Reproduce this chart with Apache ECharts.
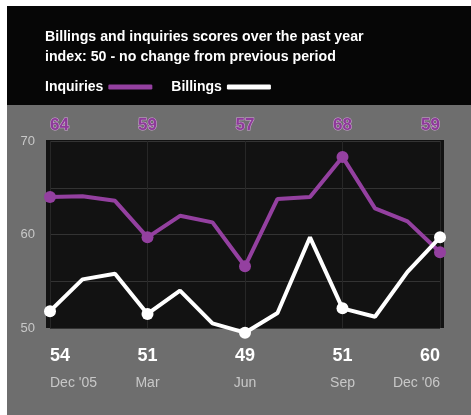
<!DOCTYPE html>
<html>
<head>
<meta charset="utf-8">
<script src="https://cdn.jsdelivr.net/npm/echarts@6/dist/echarts.min.js"></script>
<style>
html,body{margin:0;padding:0;background:#ffffff;}
#chart{width:471px;height:415px;}
</style>
</head>
<body>
<div id="chart"></div>
<script>
const months = ["Dec '05","Jan","Feb","Mar","Apr","May","Jun","Jul","Aug","Sep","Oct","Nov","Dec '06"];
const inquiries = [64.0, 64.1, 63.6, 59.7, 62.0, 61.3, 56.6, 63.8, 64.0, 68.3, 62.8, 61.4, 58.1];
const billings  = [51.8, 55.2, 55.8, 51.5, 54.0, 50.5, 49.5, 51.6, 59.7, 52.1, 51.2, 56.0, 59.7];
const inquiryLabels = ['64', '59', '57', '68', '59'];
const billingLabels = ['54', '51', '49', '51', '60'];
const yTicks = [50, 60, 70];
const titleLines = ['Billings and inquiries scores over the past year', 'index: 50 - no change from previous period'];

const PURPLE = '#9440a0';
const FONT = 'Liberation Sans';

const chart = echarts.init(document.getElementById('chart'), null, {renderer: 'canvas'});
const markSize = (v, p) => (p.dataIndex % 3 === 0 ? 12 : 0);

chart.setOption({
  backgroundColor: '#ffffff',
  animation: false,
  textStyle: {fontFamily: FONT},
  graphic: [
    {type: 'rect', z: -10, shape: {x: 7, y: 6, width: 464, height: 100}, style: {fill: '#060606'}},
    {type: 'rect', z: -10, shape: {x: 7, y: 105, width: 464, height: 310}, style: {fill: '#6e6e6e'}},
    {type: 'rect', z: -9, shape: {x: 46, y: 140, width: 398, height: 188}, style: {fill: '#121212'}}
  ],
  title: {
    text: titleLines.join('\n'),
    left: 45, top: 27, padding: 0,
    textStyle: {color: '#ffffff', fontSize: 14.2, fontWeight: 'bold', lineHeight: 20, fontFamily: FONT}
  },
  legend: {
    left: 45, top: 80, padding: 0,
    align: 'right', itemGap: 19, itemWidth: 44, itemHeight: 5,
    icon: 'roundRect',
    textStyle: {color: '#ffffff', fontSize: 14, fontWeight: 'bold', fontFamily: FONT},
    data: ['Inquiries', 'Billings']
  },
  grid: {left: 50, right: 31, top: 141, bottom: 87, containLabel: false},
  xAxis: [
    {
      type: 'category', data: months, boundaryGap: false, position: 'bottom',
      axisLine: {show: false}, axisTick: {show: false},
      splitLine: {show: true, lineStyle: {color: '#272727', width: 1}},
      axisLabel: {
        interval: 2, margin: 15,
        alignMinLabel: 'left', alignMaxLabel: 'right',
        formatter: (v, i) => '{v|' + billingLabels[i / 3] + '}\n{m|' + v + '}',
        rich: {
          v: {color: '#ffffff', fontSize: 18, fontWeight: 'bold', lineHeight: 26, fontFamily: FONT},
          m: {color: '#c8c8c8', fontSize: 14, lineHeight: 28, fontFamily: FONT}
        }
      }
    },
    {
      type: 'category', data: months, boundaryGap: false, position: 'top',
      axisLine: {show: false}, axisTick: {show: false}, splitLine: {show: false},
      axisLabel: {
        interval: 2, margin: 7,
        alignMinLabel: 'left', alignMaxLabel: 'right',
        formatter: (v, i) => inquiryLabels[i / 3],
        color: '#8e3a9a', fontSize: 17, fontWeight: 'bold', fontFamily: FONT,
        textBorderColor: '#cfa8d4', textBorderWidth: 1
      }
    }
  ],
  yAxis: {
    type: 'value', min: 50, max: 70, interval: 5,
    axisLine: {show: false}, axisTick: {show: false},
    splitLine: {show: true, lineStyle: {color: '#333333', width: 1}},
    axisLabel: {
      margin: 15, color: '#c8c8c8', fontSize: 13, fontFamily: FONT,
      formatter: v => (yTicks.includes(v) ? String(v) : '')
    }
  },
  series: [
    {
      name: 'Inquiries', type: 'line', data: inquiries, xAxisIndex: 0,
      clip: false, smooth: false, showAllSymbol: true,
      symbol: 'circle', symbolSize: markSize,
      color: PURPLE,
      lineStyle: {color: PURPLE, width: 4},
      itemStyle: {color: PURPLE}
    },
    {
      name: 'Billings', type: 'line', data: billings, xAxisIndex: 0,
      clip: false, smooth: false, showAllSymbol: true,
      symbol: 'circle', symbolSize: markSize,
      color: '#ffffff',
      lineStyle: {color: '#ffffff', width: 4},
      itemStyle: {color: '#ffffff'}
    }
  ]
});
</script>
</body>
</html>
